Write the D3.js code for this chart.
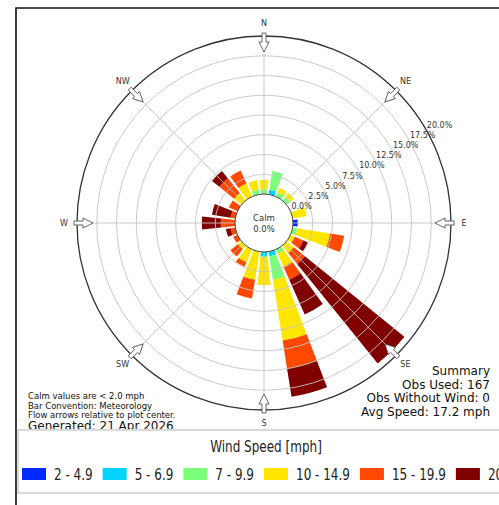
<!DOCTYPE html>
<html>
<head>
<meta charset="utf-8">
<script src="https://cdn.jsdelivr.net/npm/d3@7"></script>
<style>
body { margin: 0; background: #fff; }
svg { display: block; font-family: "DejaVu Sans", sans-serif; }
</style>
</head>
<body>
<div></div>
<script>
const WIDTH = 499;
const HEIGHT = 505;
const CX = 264;
const CY = 223;
const R_CALM = 29;
const R_OUT = 187;
const BAR_DEG = 12;
const LEGEND_SQUEEZE = 0.89;

// data: percent of observations by direction (deg from) and speed bin
const directions = d3.range(0, 360, 15);
const speedBins = ['2 - 4.9', '5 - 6.9', '7 - 9.9', '10 - 14.9', '15 - 19.9', '20+'];
const binColors = ['#002aff', '#00d4ff', '#7bff7b', '#ffe600', '#ff4800', '#800000'];
//                 0    15   30   45   60   75   90   105  120  135   150  165  180  195  210  225  240  255  270  285  300  315  330  345
const pctBin1 = [0,   0,   0,   0,   0,   0,   0.6, 0,   0,   0,    0,   0,   0,   0,   0,   0,   0,   0,   0,   0,   0,   0,   0,   0];
const pctBin2 = [0,   0.6, 0,   0,   0,   0,   0,   0,   0,   0,    0,   0.6, 0.6, 0,   0,   0,   0,   0,   0,   0,   0,   0,   0,   0];
const pctBin3 = [0.6, 2.4, 0.6, 0.6, 0,   0,   0,   0.6, 0,   0,    0.6, 3.0, 0,   0,   0,   0,   0,   0,   0,   0,   0,   0,   0,   0.6];
const pctBin4 = [1.2, 0,   0.6, 0.6, 0,   1.8, 0,   4.2, 0.6, 1.2,  1.8, 7.8, 3.6, 3.6, 1.8, 0.6, 0,   0,   0,   0,   0,   1.2, 1.8, 1.2];
const pctBin5 = [0,   0,   0,   0,   0,   0,   0,   1.8, 1.2, 1.8,  1.8, 3.6, 0,   2.4, 0.6, 1.2, 0.6, 0.6, 1.8, 0.6, 1.2, 2.4, 1.8, 0];
const pctBin6 = [0,   0,   0,   0,   0,   0,   0,   0,   0.6, 16.2, 4.8, 3.6, 0,   0,   0,   0,   0,   0.6, 2.4, 2.4, 0,   1.2, 0,   0];
const ringTicks = [0, 2.5, 5, 7.5, 10, 12.5, 15, 17.5, 20];
const compass = ['N', 'NE', 'E', 'SE', 'S', 'SW', 'W', 'NW'];
const summaryLines = ['Summary', 'Obs Used: 167', 'Obs Without Wind: 0', 'Avg Speed: 17.2 mph'];
const noteLines = ['Calm values are < 2.0 mph', 'Bar Convention: Meteorology', 'Flow arrows relative to plot center.'];
const calmPct = 0;

const rad = d => d * Math.PI / 180;
const r = d3.scaleLinear().domain([0, 20]).range([R_CALM, R_OUT]);

const keys = ['b1', 'b2', 'b3', 'b4', 'b5', 'b6'];
const binArrays = [pctBin1, pctBin2, pctBin3, pctBin4, pctBin5, pctBin6];
const table = directions.map((d, i) => {
    const row = { dir: d };
    keys.forEach((k, j) => row[k] = binArrays[j][i]);
    return row;
});
const stacked = d3.stack().keys(keys)(table);

const svg = d3.select('div').append('svg')
    .attr('width', WIDTH)
    .attr('height', HEIGHT);

// frame
svg.append('path')
    .attr('d', 'M16,' + HEIGHT + 'V8H' + WIDTH)
    .attr('fill', 'none')
    .attr('stroke', '#111')
    .attr('stroke-width', 1.6);

const g = svg.append('g').attr('transform', 'translate(' + CX + ',' + CY + ')');

// bars
const arc = d3.arc();
stacked.forEach((layer, j) => {
    g.append('g').selectAll('path')
        .data(layer.filter(s => s[1] - s[0] > 0))
        .join('path')
        .attr('fill', binColors[j])
        .attr('d', s => arc({
            innerRadius: r(s[0]),
            outerRadius: r(s[1]),
            startAngle: rad(s.data.dir - BAR_DEG / 2),
            endAngle: rad(s.data.dir + BAR_DEG / 2)
        }));
});

// grid on top
g.append('g').selectAll('circle')
    .data(ringTicks.slice(1, -1))
    .join('circle')
    .attr('r', d => r(d))
    .attr('fill', 'none')
    .attr('stroke', '#c4c4c4')
    .attr('stroke-width', 0.9);
g.append('g').selectAll('line')
    .data(compass)
    .join('line')
    .attr('x1', 0).attr('y1', 0)
    .attr('x2', (d, i) => R_OUT * Math.sin(rad(i * 45)))
    .attr('y2', (d, i) => -R_OUT * Math.cos(rad(i * 45)))
    .attr('stroke', '#c4c4c4')
    .attr('stroke-width', 0.9);
g.append('circle')
    .attr('r', R_OUT)
    .attr('fill', 'none')
    .attr('stroke', '#333')
    .attr('stroke-width', 1.3);

// calm circle
g.append('circle')
    .attr('r', R_CALM)
    .attr('fill', '#fff')
    .attr('stroke', '#444')
    .attr('stroke-width', 1);
g.append('text')
    .attr('y', -5)
    .attr('text-anchor', 'middle')
    .attr('dominant-baseline', 'central')
    .attr('font-size', 8.5)
    .attr('fill', '#333')
    .text('Calm');
g.append('text')
    .attr('y', 5.5)
    .attr('text-anchor', 'middle')
    .attr('dominant-baseline', 'central')
    .attr('font-size', 8.5)
    .attr('fill', '#333')
    .text(d3.format('.1f')(calmPct) + '%');

// ring labels
const LABEL_ANG = rad(31);
g.append('g').selectAll('text')
    .data(ringTicks)
    .join('text')
    .attr('x', d => (r(d) + 3) * Math.cos(LABEL_ANG))
    .attr('y', d => -(r(d) + 3) * Math.sin(LABEL_ANG))
    .attr('dominant-baseline', 'central')
    .attr('font-size', 8)
    .attr('fill', '#333')
    .text(d => d3.format('.1f')(d) + '%');

// compass arrows and labels
const arrowPath = 'M-2,-190L2,-190L2,-181L5,-181L0,-171L-5,-181L-2,-181Z';
g.append('g').selectAll('path')
    .data(compass)
    .join('path')
    .attr('d', arrowPath)
    .attr('transform', (d, i) => 'rotate(' + i * 45 + ')')
    .attr('fill', '#fff')
    .attr('stroke', '#555')
    .attr('stroke-width', 0.9);
g.append('g').selectAll('text')
    .data(compass)
    .join('text')
    .attr('x', (d, i) => 200 * Math.sin(rad(i * 45)))
    .attr('y', (d, i) => -200 * Math.cos(rad(i * 45)))
    .attr('text-anchor', 'middle')
    .attr('dominant-baseline', 'central')
    .attr('font-size', 8)
    .attr('fill', '#333')
    .text(d => d);

// notes bottom-left
svg.append('g').selectAll('text')
    .data(noteLines)
    .join('text')
    .attr('x', 28)
    .attr('y', (d, i) => 399 + i * 9.5)
    .attr('font-size', 8.5)
    .attr('fill', '#111')
    .text(d => d);
svg.append('text')
    .attr('x', 28)
    .attr('y', 430)
    .attr('font-size', 12)
    .attr('fill', '#111')
    .text('Generated: 21 Apr 2026');

// summary bottom-right
svg.append('g').selectAll('text')
    .data(summaryLines)
    .join('text')
    .attr('x', 490)
    .attr('y', (d, i) => 375 + i * 13.5)
    .attr('text-anchor', 'end')
    .attr('font-size', 12)
    .attr('fill', '#111')
    .text(d => d);

// legend
const LEGEND_FONT = '"DejaVu Sans Condensed", "DejaVu Sans", sans-serif';
const legend = svg.append('g');
legend.append('rect')
    .attr('x', 18).attr('y', 430)
    .attr('width', 500).attr('height', 63)
    .attr('fill', '#fff')
    .attr('stroke', '#dadada')
    .attr('stroke-width', 2);
legend.append('text')
    .attr('transform', 'translate(266,452) scale(' + LEGEND_SQUEEZE + ',1)')
    .attr('text-anchor', 'middle')
    .attr('font-family', LEGEND_FONT)
    .attr('font-stretch', 'condensed')
    .attr('font-size', 15)
    .attr('fill', '#222')
    .text('Wind Speed [mph]');
let xCursor = 22;
speedBins.forEach((label, j) => {
    legend.append('rect')
        .attr('x', xCursor).attr('y', 468)
        .attr('width', 24).attr('height', 12)
        .attr('fill', binColors[j]);
    const t = legend.append('text')
        .attr('transform', 'translate(' + (xCursor + 32) + ',480) scale(' + LEGEND_SQUEEZE + ',1)')
        .attr('font-family', LEGEND_FONT)
        .attr('font-stretch', 'condensed')
        .attr('font-size', 15)
        .attr('fill', '#222')
        .text(label);
    xCursor += 32 + t.node().getComputedTextLength() * LEGEND_SQUEEZE + 10;
});
</script>
</body>
</html>
